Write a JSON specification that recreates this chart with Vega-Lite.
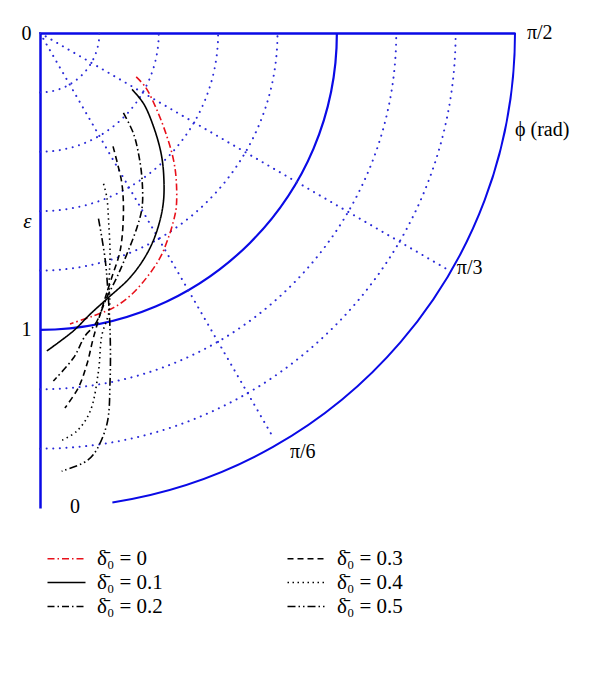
{
  "$schema": "https://vega.github.io/schema/vega-lite/v6.json",
  "width": 475,
  "height": 475,
  "autosize": "none",
  "padding": {"left": 40, "top": 33, "right": 85, "bottom": 184},
  "background": "white",
  "config": {"view": {"stroke": null}, "font": "Liberation Serif, Times New Roman, serif"},
  "datasets": {
    "rings": [
      {"r": 0.2, "style": "dot"}, {"r": 0.4, "style": "dot"}, {"r": 0.6, "style": "dot"},
      {"r": 0.8, "style": "dot"}, {"r": 1.2, "style": "dot"}, {"r": 1.4, "style": "dot"},
      {"r": 1.0, "style": "solid"}, {"r": 1.6, "style": "outer"}
    ],
    "rays": [
      {"x": 0, "y": 0, "x2": 1.368, "y2": 0.794},
      {"x": 0, "y": 0, "x2": 0.787, "y2": 1.365}
    ],
    "labels": [
      {"t": "π/2", "x": 1.64, "y": 0.0},
      {"t": "ϕ (rad)", "x": 1.6, "y": 0.327},
      {"t": "π/3", "x": 1.404, "y": 0.792},
      {"t": "π/6", "x": 0.842, "y": 1.411}
    ],
    "labelsC": [
      {"t": "0", "x": 0.118, "y": 1.596}
    ],
    "curves": [
      {"d": "0", "k": 1, "x": 0.324, "y": 0.148},
      {"d": "0", "k": 2, "x": 0.355, "y": 0.182},
      {"d": "0", "k": 3, "x": 0.394, "y": 0.260},
      {"d": "0", "k": 4, "x": 0.428, "y": 0.350},
      {"d": "0", "k": 5, "x": 0.450, "y": 0.429},
      {"d": "0", "k": 6, "x": 0.459, "y": 0.497},
      {"d": "0", "k": 7, "x": 0.459, "y": 0.587},
      {"d": "0", "k": 8, "x": 0.450, "y": 0.632},
      {"d": "0", "k": 9, "x": 0.433, "y": 0.688},
      {"d": "0", "k": 10, "x": 0.405, "y": 0.756},
      {"d": "0", "k": 11, "x": 0.360, "y": 0.823},
      {"d": "0", "k": 12, "x": 0.304, "y": 0.885},
      {"d": "0", "k": 13, "x": 0.248, "y": 0.925},
      {"d": "0", "k": 14, "x": 0.180, "y": 0.953},
      {"d": "0", "k": 15, "x": 0.101, "y": 0.980},

      {"d": "0.1", "k": 1, "x": 0.310, "y": 0.190},
      {"d": "0.1", "k": 2, "x": 0.349, "y": 0.238},
      {"d": "0.1", "k": 3, "x": 0.383, "y": 0.317},
      {"d": "0.1", "k": 4, "x": 0.408, "y": 0.406},
      {"d": "0.1", "k": 5, "x": 0.417, "y": 0.485},
      {"d": "0.1", "k": 6, "x": 0.415, "y": 0.575},
      {"d": "0.1", "k": 7, "x": 0.394, "y": 0.666},
      {"d": "0.1", "k": 8, "x": 0.360, "y": 0.744},
      {"d": "0.1", "k": 9, "x": 0.304, "y": 0.823},
      {"d": "0.1", "k": 10, "x": 0.225, "y": 0.896},
      {"d": "0.1", "k": 11, "x": 0.169, "y": 0.947},
      {"d": "0.1", "k": 12, "x": 0.113, "y": 1.003},
      {"d": "0.1", "k": 13, "x": 0.023, "y": 1.071},

      {"d": "0.2", "k": 1, "x": 0.281, "y": 0.269},
      {"d": "0.2", "k": 2, "x": 0.315, "y": 0.339},
      {"d": "0.2", "k": 3, "x": 0.334, "y": 0.418},
      {"d": "0.2", "k": 4, "x": 0.344, "y": 0.497},
      {"d": "0.2", "k": 5, "x": 0.344, "y": 0.587},
      {"d": "0.2", "k": 6, "x": 0.327, "y": 0.654},
      {"d": "0.2", "k": 7, "x": 0.293, "y": 0.744},
      {"d": "0.2", "k": 8, "x": 0.259, "y": 0.823},
      {"d": "0.2", "k": 9, "x": 0.225, "y": 0.891},
      {"d": "0.2", "k": 10, "x": 0.186, "y": 0.981},
      {"d": "0.2", "k": 11, "x": 0.152, "y": 1.020},
      {"d": "0.2", "k": 12, "x": 0.113, "y": 1.094},
      {"d": "0.2", "k": 13, "x": 0.045, "y": 1.172},

      {"d": "0.3", "k": 1, "x": 0.246, "y": 0.382},
      {"d": "0.3", "k": 2, "x": 0.261, "y": 0.440},
      {"d": "0.3", "k": 3, "x": 0.276, "y": 0.508},
      {"d": "0.3", "k": 4, "x": 0.281, "y": 0.608},
      {"d": "0.3", "k": 5, "x": 0.270, "y": 0.733},
      {"d": "0.3", "k": 6, "x": 0.242, "y": 0.823},
      {"d": "0.3", "k": 7, "x": 0.220, "y": 0.891},
      {"d": "0.3", "k": 8, "x": 0.180, "y": 1.026},
      {"d": "0.3", "k": 9, "x": 0.158, "y": 1.116},
      {"d": "0.3", "k": 10, "x": 0.129, "y": 1.195},
      {"d": "0.3", "k": 11, "x": 0.084, "y": 1.263},

      {"d": "0.4", "k": 1, "x": 0.214, "y": 0.508},
      {"d": "0.4", "k": 2, "x": 0.225, "y": 0.553},
      {"d": "0.4", "k": 3, "x": 0.231, "y": 0.632},
      {"d": "0.4", "k": 4, "x": 0.236, "y": 0.743},
      {"d": "0.4", "k": 5, "x": 0.233, "y": 0.834},
      {"d": "0.4", "k": 6, "x": 0.233, "y": 0.936},
      {"d": "0.4", "k": 7, "x": 0.208, "y": 1.020},
      {"d": "0.4", "k": 8, "x": 0.197, "y": 1.139},
      {"d": "0.4", "k": 9, "x": 0.169, "y": 1.274},
      {"d": "0.4", "k": 10, "x": 0.124, "y": 1.341},
      {"d": "0.4", "k": 11, "x": 0.068, "y": 1.375},

      {"d": "0.5", "k": 1, "x": 0.197, "y": 0.625},
      {"d": "0.5", "k": 2, "x": 0.208, "y": 0.688},
      {"d": "0.5", "k": 3, "x": 0.220, "y": 0.767},
      {"d": "0.5", "k": 4, "x": 0.227, "y": 0.846},
      {"d": "0.5", "k": 5, "x": 0.236, "y": 1.003},
      {"d": "0.5", "k": 6, "x": 0.236, "y": 1.172},
      {"d": "0.5", "k": 7, "x": 0.225, "y": 1.319},
      {"d": "0.5", "k": 8, "x": 0.180, "y": 1.420},
      {"d": "0.5", "k": 9, "x": 0.146, "y": 1.448},
      {"d": "0.5", "k": 10, "x": 0.073, "y": 1.476}
    ]
  },
  "layer": [
    {
      "data": {"name": "rings"},
      "transform": [{"filter": "datum.style === 'dot'"}],
      "mark": {"type": "point", "shape": "M0,1A1,1,0,0,0,1,0", "filled": false, "stroke": "#2a2ad8", "strokeWidth": 2, "strokeDash": [0.1, 6.5], "strokeCap": "round", "opacity": 1},
      "encoding": {
        "x": {"datum": 0, "type": "quantitative"},
        "y": {"datum": 0, "type": "quantitative"},
        "size": {"field": "r", "type": "quantitative", "scale": {"type": "pow", "exponent": 2, "domain": [0, 1.6], "range": [0, 902500]}, "legend": null}
      }
    },
    {
      "data": {"name": "rings"},
      "transform": [{"filter": "datum.style === 'solid'"}],
      "mark": {"type": "point", "shape": "M0,1A1,1,0,0,0,1,0", "filled": false, "stroke": "#0a0ae6", "strokeWidth": 2.2, "opacity": 1},
      "encoding": {
        "x": {"datum": 0, "type": "quantitative"},
        "y": {"datum": 0, "type": "quantitative"},
        "size": {"field": "r", "type": "quantitative", "scale": {"type": "pow", "exponent": 2, "domain": [0, 1.6], "range": [0, 902500]}, "legend": null}
      }
    },
    {
      "data": {"name": "rings"},
      "transform": [{"filter": "datum.style === 'outer'"}],
      "mark": {"type": "point", "shape": "M0.1524,0.9883A1,1,0,0,0,1,0", "filled": false, "stroke": "#0a0ae6", "strokeWidth": 2, "opacity": 1},
      "encoding": {
        "x": {"datum": 0, "type": "quantitative"},
        "y": {"datum": 0, "type": "quantitative"},
        "size": {"field": "r", "type": "quantitative", "scale": {"type": "pow", "exponent": 2, "domain": [0, 1.6], "range": [0, 902500]}, "legend": null}
      }
    },
    {
      "data": {"name": "rays"},
      "mark": {"type": "rule", "stroke": "#2a2ad8", "strokeWidth": 2, "strokeDash": [0.1, 6.5], "strokeCap": "round"},
      "encoding": {
        "x": {"field": "x", "type": "quantitative"},
        "y": {"field": "y", "type": "quantitative"},
        "x2": {"field": "x2"},
        "y2": {"field": "y2"}
      }
    },
    {
      "data": {"name": "curves"},
      "mark": {"type": "line", "strokeWidth": 1.6, "interpolate": "catmull-rom"},
      "encoding": {
        "x": {"field": "x", "type": "quantitative", "scale": {"domain": [0, 1.6], "nice": false, "zero": false},
              "axis": {"orient": "top", "domainColor": "#0a0ae6", "domainWidth": 2.5, "ticks": false, "labels": false, "grid": false, "title": null}},
        "y": {"field": "y", "type": "quantitative", "scale": {"domain": [0, 1.6], "nice": false, "zero": false, "reverse": true},
              "axis": {"orient": "left", "domainColor": "#0a0ae6", "domainWidth": 2.5, "ticks": false, "grid": false, "values": [0, 1], "format": "d",
                       "labelFont": "Liberation Serif, Times New Roman, serif", "labelFontSize": 20, "labelColor": "black", "labelPadding": 9,
                       "title": "ε", "titleAngle": 0, "titleFont": "Liberation Serif, Times New Roman, serif", "titleFontSize": 21, "titleFontWeight": "normal", "titleFontStyle": "italic",
                       "titleX": -13, "titleY": 188, "titleAlign": "center", "titleBaseline": "middle"}},
        "order": {"field": "k", "type": "quantitative"},
        "color": {"field": "d", "type": "nominal",
                  "scale": {"domain": ["0", "0.1", "0.2", "0.3", "0.4", "0.5"], "range": ["#e8101a", "black", "black", "black", "black", "black"]},
                  "legend": {"orient": "none", "legendX": 16, "legendY": 515, "columns": 2, "columnPadding": 121, "rowPadding": 2, "title": null,
                             "symbolType": "M-3.8,0H3.8", "symbolSize": 100, "symbolStrokeWidth": 1.5,
                             "labelFont": "Liberation Serif, Times New Roman, serif", "labelFontSize": 21, "labelColor": "black", "labelOffset": 20,
                             "labelExpr": "'δ̄₀ = ' + datum.label"}},
        "strokeDash": {"field": "d", "type": "nominal",
                  "scale": {"domain": ["0", "0.1", "0.2", "0.3", "0.4", "0.5"], "range": [[7, 3, 1.5, 3], [1, 0], [7, 3, 1.5, 3], [6, 4], [1.5, 3.5], [8, 3, 1.5, 3, 1.5, 3]]},
                  "legend": {"orient": "none", "legendX": 16, "legendY": 515, "columns": 2, "columnPadding": 121, "rowPadding": 2, "title": null,
                             "symbolType": "M-3.8,0H3.8", "symbolSize": 100, "symbolStrokeWidth": 1.5,
                             "labelFont": "Liberation Serif, Times New Roman, serif", "labelFontSize": 21, "labelColor": "black", "labelOffset": 20,
                             "labelExpr": "'δ̄₀ = ' + datum.label"}}
      }
    },
    {
      "data": {"name": "labels"},
      "mark": {"type": "text", "align": "left", "baseline": "middle", "font": "Liberation Serif, Times New Roman, serif", "fontSize": 20, "color": "black"},
      "encoding": {
        "x": {"field": "x", "type": "quantitative"},
        "y": {"field": "y", "type": "quantitative"},
        "text": {"field": "t"}
      }
    },
    {
      "data": {"name": "labelsC"},
      "mark": {"type": "text", "align": "center", "baseline": "middle", "font": "Liberation Serif, Times New Roman, serif", "fontSize": 20, "color": "black"},
      "encoding": {
        "x": {"field": "x", "type": "quantitative"},
        "y": {"field": "y", "type": "quantitative"},
        "text": {"field": "t"}
      }
    }
  ]
}
